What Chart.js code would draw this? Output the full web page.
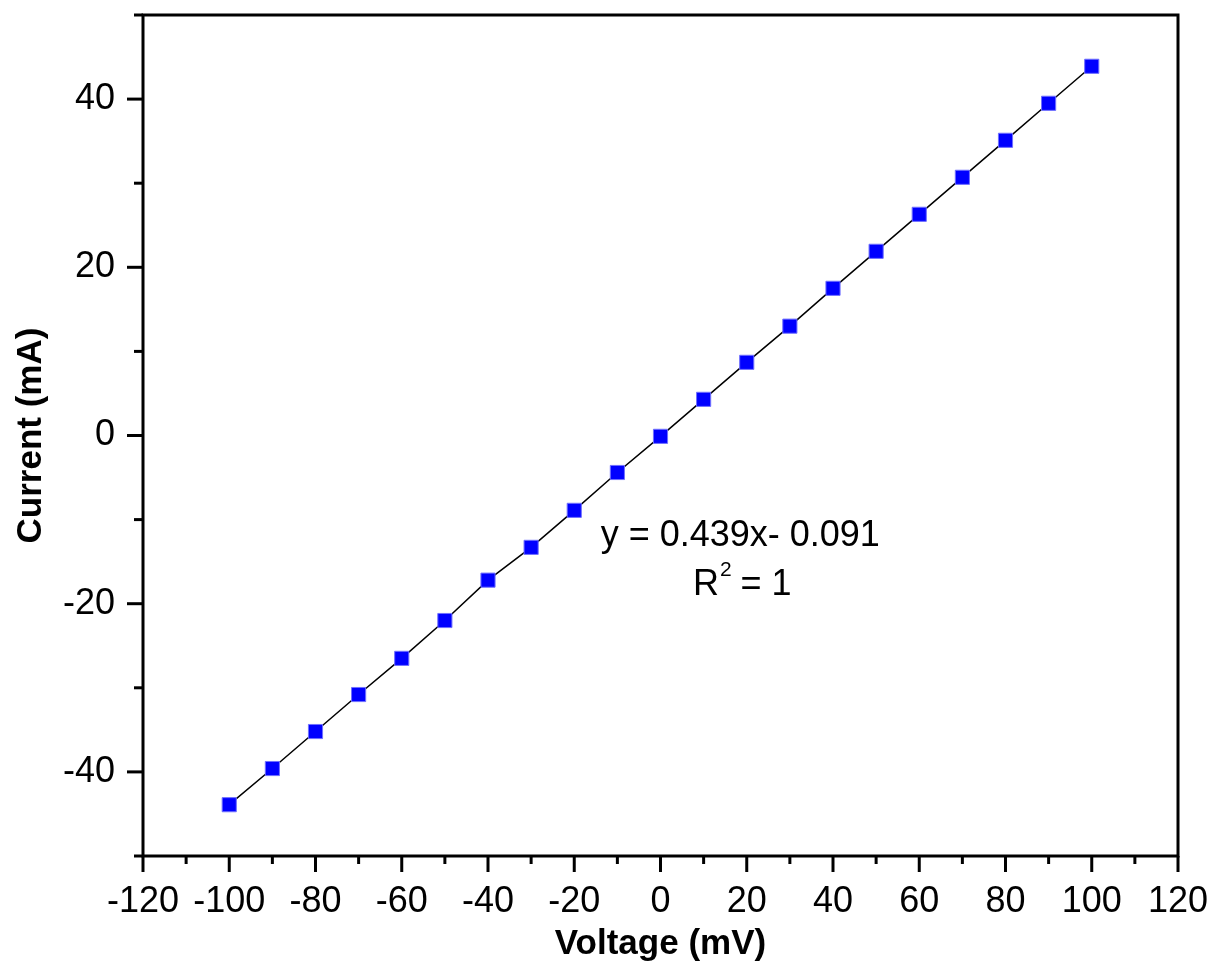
<!DOCTYPE html>
<html>
<head>
<meta charset="utf-8">
<script src="https://cdn.jsdelivr.net/npm/chart.js@4"></script>
<style>
  html, body { margin: 0; padding: 0; background: #fff; }
</style>
</head>
<body>
<canvas id="chart" width="1213" height="967"></canvas>
<script>
// voltage sweep (mV) and measured current (mA)
const voltage = [-100, -90, -80, -70, -60, -50, -40, -30, -20, -10, 0, 10, 20, 30, 40, 50, 60, 70, 80, 90, 100];
const current = [-43.9, -39.6, -35.2, -30.8, -26.5, -22.0, -17.2, -13.3, -8.9, -4.4, -0.1, 4.3, 8.7, 13.0, 17.5, 21.9, 26.3, 30.7, 35.1, 39.5, 43.9];

const fitText = 'y = 0.439x- 0.091';
const r2Text = '1';

const FONT = '"Liberation Sans", Arial, sans-serif';
const TICK_SIZE = 36;
const TITLE_SIZE = 35;
const NOTE_SIZE = 36;

const points = voltage.map((v, i) => ({ x: v, y: current[i] }));

// frame + outward ticks, Origin style
const framePlugin = {
  id: 'frame',
  afterDraw(chart) {
    const { ctx, chartArea: a, scales } = chart;
    ctx.save();
    ctx.strokeStyle = '#000';
    ctx.lineWidth = 3;
    ctx.strokeRect(a.left, a.top, a.right - a.left, a.bottom - a.top);

    scales.x.ticks.forEach(t => {
      const px = scales.x.getPixelForValue(t.value);
      const len = t.value % 20 === 0 ? 16 : 8;
      ctx.beginPath();
      ctx.moveTo(px, a.bottom);
      ctx.lineTo(px, a.bottom + len);
      ctx.stroke();
    });
    scales.y.ticks.forEach(t => {
      const py = scales.y.getPixelForValue(t.value);
      const len = t.value % 20 === 0 ? 16 : 9;
      ctx.beginPath();
      ctx.moveTo(a.left, py);
      ctx.lineTo(a.left - len, py);
      ctx.stroke();
    });

    // fit equation
    const cx = scales.x.getPixelForValue(18.5);
    const y1 = scales.y.getPixelForValue(-12.0);
    const y2 = scales.y.getPixelForValue(-17.8);
    ctx.fillStyle = '#000';
    ctx.textBaseline = 'middle';
    ctx.textAlign = 'center';
    ctx.font = NOTE_SIZE + 'px ' + FONT;
    ctx.fillText(fitText, cx, y1);

    const rW = ctx.measureText('R').width;
    const restW = ctx.measureText(' = ' + r2Text).width;
    ctx.font = '21px ' + FONT;
    const supW = ctx.measureText('2').width;
    const total = rW + supW + restW;
    const x0 = cx - total / 2 + 2;
    ctx.textAlign = 'left';
    ctx.font = NOTE_SIZE + 'px ' + FONT;
    ctx.fillText('R', x0, y2);
    ctx.font = '21px ' + FONT;
    ctx.fillText('2', x0 + rW + 1, y2 - 15);
    ctx.font = NOTE_SIZE + 'px ' + FONT;
    ctx.fillText(' = ' + r2Text, x0 + rW + supW, y2);
    ctx.restore();
  }
};

new Chart(document.getElementById('chart'), {
  type: 'scatter',
  data: {
    datasets: [{
      data: points,
      showLine: true,
      borderColor: '#000',
      borderWidth: 1.5,
      pointStyle: 'rect',
      pointRadius: 10,
      pointHoverRadius: 10,
      pointBackgroundColor: '#0000ff',
      pointBorderColor: '#7070ff',
      pointBorderWidth: 1
    }]
  },
  options: {
    responsive: false,
    animation: false,
    devicePixelRatio: 1,
    layout: { padding: { left: 0, top: 15, right: 35, bottom: 0 } },
    plugins: { legend: { display: false }, tooltip: { enabled: false } },
    scales: {
      x: {
        type: 'linear',
        min: -120,
        max: 120,
        grid: { display: false, drawTicks: false },
        border: { display: false },
        afterFit(scale) {
          scale.height = 111;
          scale.paddingLeft = 0;
          scale.paddingRight = 0;
        },
        ticks: {
          stepSize: 10,
          autoSkip: false,
          maxRotation: 0,
          padding: 24,
          color: '#000',
          font: { family: FONT, size: TICK_SIZE },
          callback: v => (v % 20 === 0 ? String(v) : '')
        },
        title: {
          display: true,
          text: 'Voltage (mV)',
          color: '#000',
          font: { family: FONT, size: TITLE_SIZE, weight: 'bold' },
          padding: { top: 0, bottom: 2 }
        }
      },
      y: {
        type: 'linear',
        min: -50,
        max: 50,
        grid: { display: false, drawTicks: false },
        border: { display: false },
        afterFit(scale) {
          scale.width = 143;
          scale.paddingTop = 0;
          scale.paddingBottom = 0;
        },
        ticks: {
          stepSize: 10,
          autoSkip: false,
          padding: 28,
          color: '#000',
          font: { family: FONT, size: TICK_SIZE },
          callback: v => (v % 20 === 0 ? String(v) : '')
        },
        title: {
          display: true,
          text: 'Current (mA)',
          color: '#000',
          font: { family: FONT, size: TITLE_SIZE, weight: 'bold' },
          padding: { top: 10, bottom: 0 }
        }
      }
    }
  },
  plugins: [framePlugin]
});
</script>
</body>
</html>
